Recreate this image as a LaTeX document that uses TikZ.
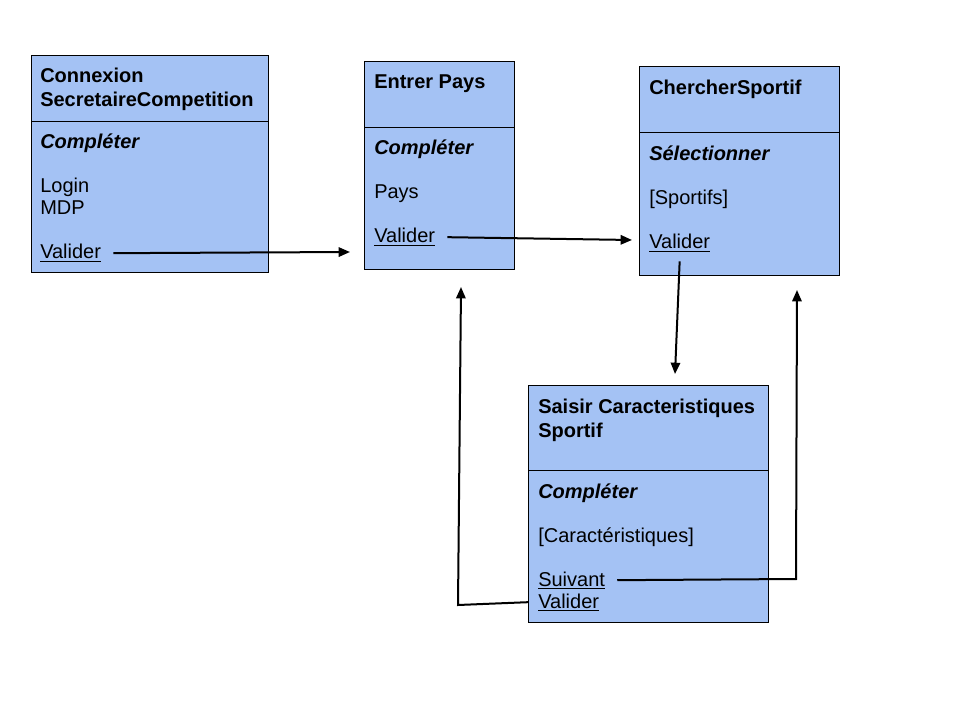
\documentclass[tikz,border=0pt]{standalone}
\usepackage{fontspec}
\setmainfont{Liberation Sans}
\usepackage{tikz}
\usetikzlibrary{arrows.meta}

\begin{document}
\begin{tikzpicture}[x=0.75pt, y=-0.75pt, >={Triangle[length=8.5pt,width=7pt]},
    every node/.style={font=\fontsize{15}{18}\selectfont, inner sep=0pt, anchor=base west},
    fleche/.style={line width=1.5pt}]
      \definecolor{ecranbg}{HTML}{A4C2F4}
      \useasboundingbox (0,0) rectangle (960,720);

      % les ecrans
      \foreach \xa/\ya/\xb/\ym/\yb in {31/56/268/122/273, 364/62/514/128/270, 639/67/839/133/276, 528/385/768/470/622} {
        \draw[fill=ecranbg, line width=0.75pt] (\xa,\ya) rectangle (\xb,\yb);
        \draw[line width=0.75pt] (\xa,\ym) -- (\xb,\ym);
      }

      % Connexion
      \node (titreConnexion) at (40,83) {\bfseries Connexion};
      \node (titreSecretaire) at (40,107) {\bfseries SecretaireCompetition};
      \node (completerA) at (40,149) {\bfseries\itshape Compléter};
      \node (login) at (40,193) {Login};
      \node (mdp) at (40,215) {MDP};
      \node (validerA) at (40,259) {\underline{Valider}};

      % Entrer Pays
      \node (titrePays) at (374,89) {\bfseries Entrer Pays};
      \node (completerB) at (374,155) {\bfseries\itshape Compléter};
      \node (pays) at (374,199) {Pays};
      \node (validerB) at (374,243) {\underline{Valider}};

      % ChercherSportif
      \node (titreSportif) at (649,95) {\bfseries ChercherSportif};
      \node (selectionner) at (649,161) {\bfseries\itshape Sélectionner};
      \node (sportifs) at (649,205) {[Sportifs]};
      \node (validerC) at (649,249) {\underline{Valider}};

      % Saisir Caracteristiques
      \node (titreSaisir) at (538,413) {\bfseries Saisir Caracteristiques};
      \node (titreSportifB) at (538,437) {\bfseries Sportif};
      \node (completerD) at (538,498) {\bfseries\itshape Compléter};
      \node (caract) at (538,542) {[Caractéristiques]};
      \node (suivant) at (538,586) {\underline{Suivant}};
      \node (validerD) at (538,608) {\underline{Valider}};

      \coordinate (entreePays) at (350,252);
      \coordinate (entreeSportif) at (632,240);
      \coordinate (entreeSaisir) at (675,374);
      \coordinate (coinPays) at (458,605);
      \coordinate (retourPays) at (461,287);
      \coordinate (coinSportif) at (796,579);
      \coordinate (retourSportif) at (797,290);

      \draw[fleche, ->] ([xshift=9pt]validerA.east) -- (entreePays);
      \draw[fleche, ->] ([xshift=9pt]validerB.east) -- (entreeSportif);
      \draw[fleche, ->] ([yshift=-7pt]validerC.south) -- (entreeSaisir);
      \draw[fleche, ->] ([xshift=-7.5pt]validerD.west) -- (coinPays) -- (retourPays);
      \draw[fleche, ->] ([xshift=9pt]suivant.east) -- (coinSportif) -- (retourSportif);
\end{tikzpicture}
\end{document}
